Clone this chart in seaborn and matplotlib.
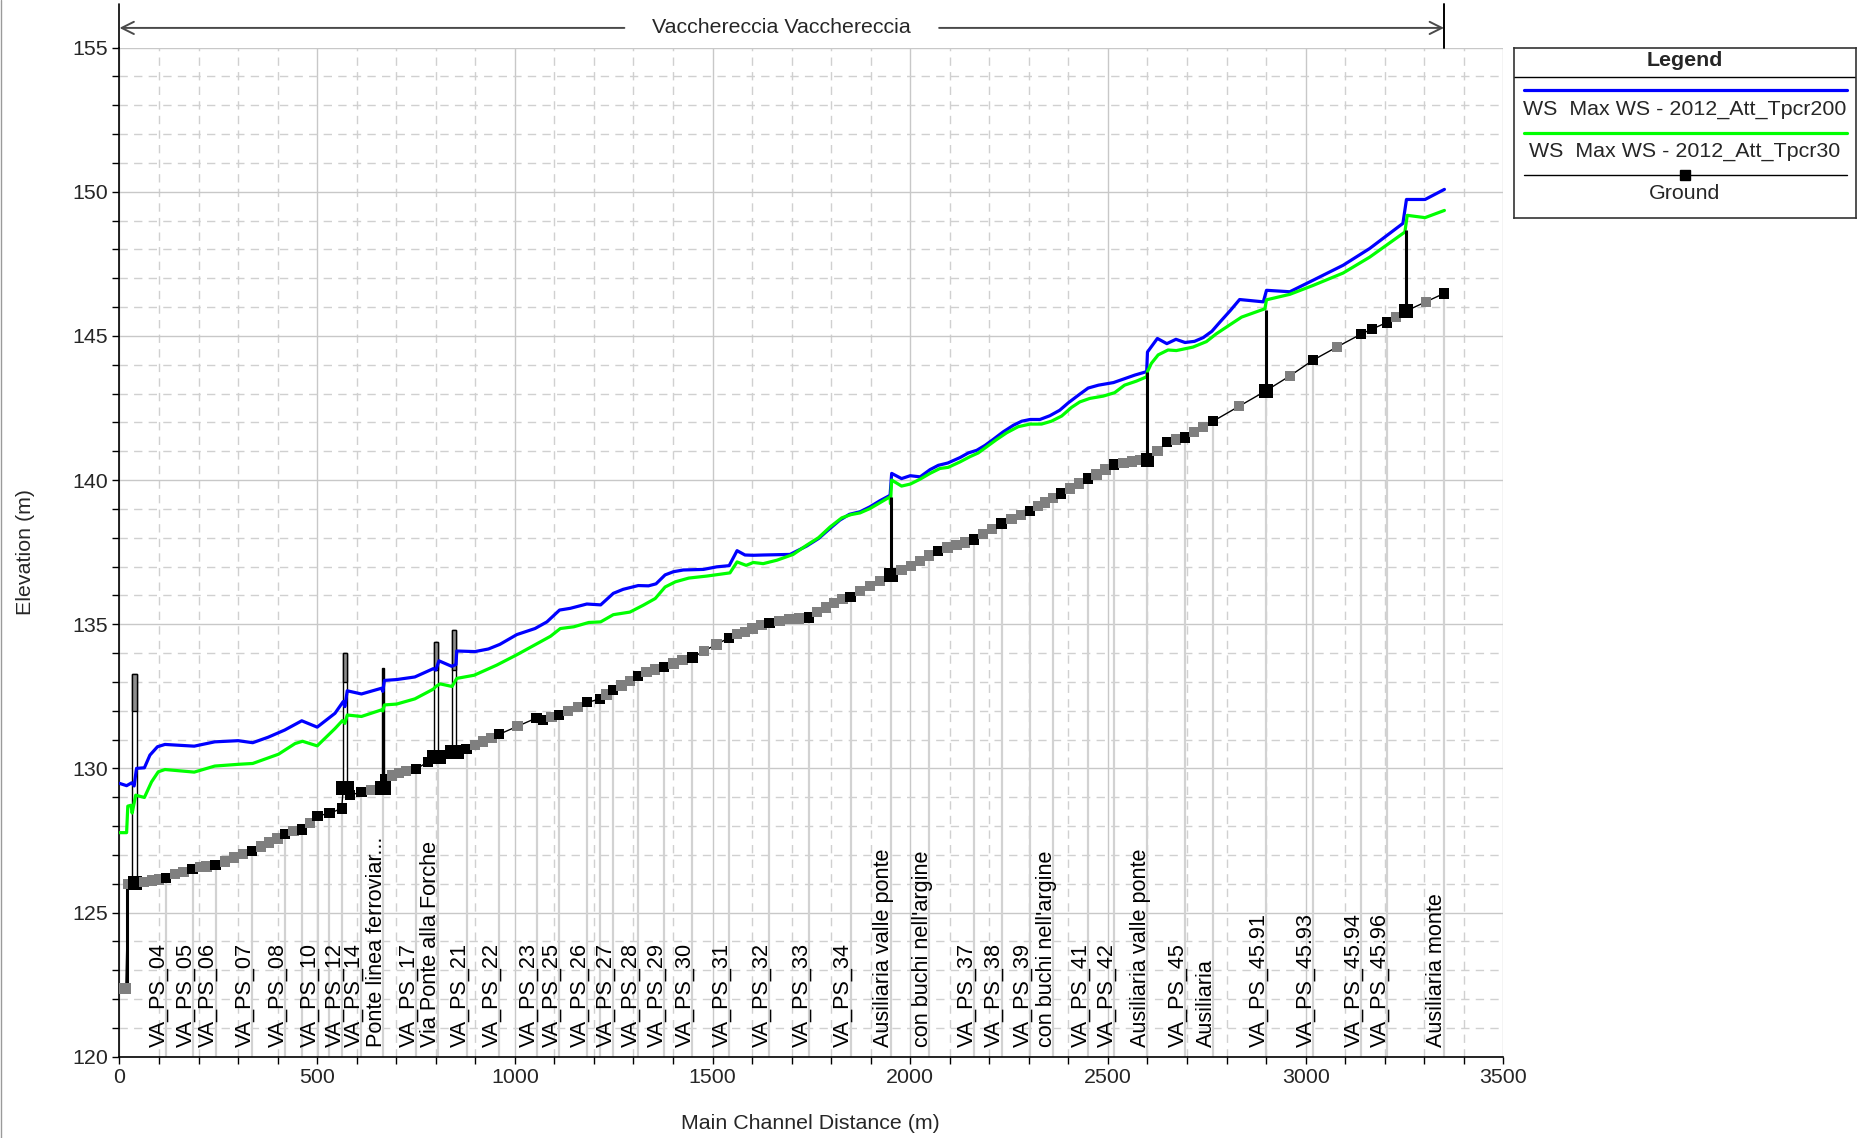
import numpy as np
import pandas as pd
import matplotlib
matplotlib.use("Agg")
import matplotlib.pyplot as plt
from matplotlib.ticker import MultipleLocator
from matplotlib.patches import Rectangle
from matplotlib.lines import Line2D
import seaborn as sns

# ---------------------------------------------------------------------------
# Longitudinal profile data (main channel distance in m, elevation in m)
# ---------------------------------------------------------------------------
reach_name = "Vacchereccia Vacchereccia"

# Water surface, Max WS - 2012_Att_Tpcr200
ws_tpcr200 = [
    (0, 129.48), (18, 129.40), (31, 129.50), (37, 129.39), (43, 130.00), (63, 130.02),
    (77, 130.46), (96, 130.75), (115, 130.83), (189, 130.77), (241, 130.92), (300, 130.96),
    (337, 130.89), (376, 131.08), (418, 131.33), (461, 131.65), (500, 131.43), (545, 131.91),
    (566, 132.32), (570, 132.14), (576, 132.69), (612, 132.58), (663, 132.78), (666, 132.67),
    (670, 133.05), (701, 133.08), (747, 133.17), (794, 133.46), (800, 133.41), (808, 133.73),
    (840, 133.54), (851, 133.60), (853, 134.07), (899, 134.05), (933, 134.14), (962, 134.30),
    (1005, 134.64), (1051, 134.85), (1081, 135.08), (1113, 135.49), (1140, 135.55),
    (1182, 135.70), (1217, 135.67), (1249, 136.07), (1274, 136.21), (1312, 136.34),
    (1338, 136.33), (1357, 136.40), (1380, 136.71), (1401, 136.82), (1426, 136.88),
    (1477, 136.90), (1511, 136.99), (1542, 137.03), (1562, 137.55), (1582, 137.40),
    (1603, 137.39), (1628, 137.40), (1696, 137.42), (1738, 137.71), (1768, 137.97),
    (1797, 138.32), (1822, 138.61), (1846, 138.81), (1873, 138.90), (1898, 139.07),
    (1923, 139.28), (1949, 139.47), (1953, 140.23), (1978, 140.05), (2000, 140.15),
    (2025, 140.11), (2050, 140.36), (2071, 140.51), (2095, 140.59), (2126, 140.78),
    (2147, 140.94), (2168, 141.03), (2189, 141.20), (2210, 141.41), (2235, 141.67),
    (2261, 141.90), (2282, 142.04), (2303, 142.10), (2328, 142.10), (2353, 142.23),
    (2378, 142.42), (2400, 142.68), (2425, 142.94), (2450, 143.19), (2476, 143.29),
    (2514, 143.38), (2539, 143.50), (2568, 143.64), (2598, 143.76), (2600, 144.44),
    (2625, 144.91), (2649, 144.73), (2672, 144.88), (2695, 144.77), (2719, 144.81),
    (2741, 144.94), (2763, 145.16), (2784, 145.49), (2809, 145.87), (2833, 146.26),
    (2893, 146.18), (2901, 146.58), (2960, 146.53), (3019, 146.93), (3095, 147.45),
    (3162, 148.03), (3246, 148.90), (3251, 149.36), (3255, 149.73), (3302, 149.73),
    (3351, 150.08),
]

# Water surface, Max WS - 2012_Att_Tpcr30
ws_tpcr30 = [
    (0, 127.77), (18, 127.77), (21, 128.69), (29, 128.72), (32, 128.45), (41, 129.07),
    (63, 128.99), (81, 129.53), (98, 129.88), (115, 129.96), (189, 129.87), (241, 130.08),
    (300, 130.14), (337, 130.17), (402, 130.49), (444, 130.86), (463, 130.94), (500, 130.78),
    (545, 131.38), (564, 131.66), (570, 131.56), (576, 131.85), (612, 131.80), (663, 132.03),
    (666, 131.99), (670, 132.20), (701, 132.23), (747, 132.41), (794, 132.75), (800, 132.84),
    (811, 132.93), (841, 132.84), (853, 133.12), (897, 133.23), (954, 133.58), (1005, 133.94),
    (1090, 134.58), (1115, 134.85), (1149, 134.91), (1187, 135.06), (1217, 135.08),
    (1249, 135.33), (1291, 135.42), (1325, 135.66), (1355, 135.89), (1380, 136.29),
    (1406, 136.47), (1440, 136.60), (1486, 136.67), (1544, 136.78), (1562, 137.16),
    (1585, 137.04), (1603, 137.14), (1628, 137.10), (1663, 137.22), (1704, 137.42),
    (1738, 137.74), (1768, 138.00), (1797, 138.37), (1827, 138.69), (1850, 138.80),
    (1873, 138.86), (1898, 139.01), (1923, 139.21), (1949, 139.42), (1950, 139.18),
    (1953, 140.00), (1978, 139.79), (2000, 139.86), (2025, 140.03), (2050, 140.23),
    (2075, 140.40), (2096, 140.44), (2126, 140.63), (2151, 140.81), (2172, 140.94),
    (2193, 141.15), (2218, 141.40), (2244, 141.64), (2273, 141.85), (2303, 141.94),
    (2332, 141.94), (2357, 142.04), (2383, 142.22), (2408, 142.52), (2429, 142.71),
    (2454, 142.83), (2488, 142.91), (2517, 143.03), (2542, 143.29), (2572, 143.43),
    (2598, 143.58), (2600, 143.76), (2610, 144.05), (2627, 144.34), (2652, 144.51),
    (2673, 144.49), (2715, 144.61), (2749, 144.80), (2774, 145.07), (2808, 145.38),
    (2838, 145.65), (2897, 145.94), (2901, 146.25), (2960, 146.44), (3019, 146.75),
    (3095, 147.18), (3162, 147.73), (3251, 148.60), (3257, 149.18), (3302, 149.10),
    (3351, 149.35),
]

# Channel bed: (distance, elevation, kind) with kind "xs" = surveyed section,
# "int" = interpolated section, "face" = bridge / structure face
ground = [
    (0, 122.37, "int"), (16, 122.37, "int"), (22, 125.98, "int"), (30, 126.00, "int"),
    (40, 126.02, "face"), (62, 126.07, "int"), (83, 126.11, "int"), (100, 126.15, "int"),
    (117, 126.19, "xs"), (140, 126.33, "int"), (162, 126.41, "int"), (185, 126.50, "xs"),
    (203, 126.57, "int"), (220, 126.60, "int"), (243, 126.65, "xs"), (266, 126.77, "int"),
    (290, 126.91, "int"), (313, 127.04, "int"), (336, 127.14, "xs"), (358, 127.29, "int"),
    (379, 127.43, "int"), (400, 127.57, "int"), (419, 127.72, "xs"), (440, 127.82, "int"),
    (461, 127.88, "xs"), (482, 128.11, "int"), (501, 128.35, "xs"), (531, 128.44, "xs"),
    (562, 128.61, "xs"), (566, 129.33, "face"), (576, 129.33, "face"), (583, 129.07, "xs"),
    (612, 129.18, "xs"), (637, 129.26, "int"), (663, 129.33, "face"), (670, 129.33, "face"),
    (673, 129.62, "xs"), (690, 129.75, "int"), (707, 129.83, "int"), (725, 129.90, "int"),
    (750, 129.98, "xs"), (781, 130.23, "xs"), (796, 130.38, "face"), (808, 130.38, "face"),
    (840, 130.58, "face"), (853, 130.58, "face"), (878, 130.66, "xs"), (899, 130.81, "int"),
    (920, 130.93, "int"), (941, 131.05, "int"), (960, 131.18, "xs"), (1007, 131.46, "int"),
    (1055, 131.75, "xs"), (1072, 131.67, "xs"), (1093, 131.78, "int"), (1112, 131.84, "xs"),
    (1135, 131.99, "int"), (1159, 132.13, "int"), (1183, 132.29, "xs"), (1215, 132.40, "xs"),
    (1232, 132.56, "int"), (1249, 132.72, "xs"), (1270, 132.87, "int"), (1291, 133.04, "int"),
    (1312, 133.20, "xs"), (1333, 133.33, "int"), (1354, 133.43, "int"), (1378, 133.52, "xs"),
    (1401, 133.64, "int"), (1424, 133.76, "int"), (1449, 133.84, "xs"), (1478, 134.07, "int"),
    (1510, 134.30, "int"), (1542, 134.53, "xs"), (1562, 134.65, "int"), (1582, 134.73, "int"),
    (1601, 134.85, "int"), (1624, 134.96, "int"), (1644, 135.05, "xs"), (1669, 135.11, "int"),
    (1694, 135.17, "int"), (1719, 135.20, "int"), (1744, 135.23, "xs"), (1765, 135.43, "int"),
    (1787, 135.58, "int"), (1808, 135.74, "int"), (1829, 135.87, "int"), (1849, 135.95, "xs"),
    (1873, 136.14, "int"), (1898, 136.33, "int"), (1923, 136.51, "int"), (1951, 136.70, "face"),
    (1978, 136.88, "int"), (2002, 137.03, "int"), (2025, 137.20, "int"), (2048, 137.38, "int"),
    (2071, 137.53, "xs"), (2094, 137.66, "int"), (2117, 137.74, "int"), (2139, 137.83, "int"),
    (2161, 137.94, "xs"), (2184, 138.12, "int"), (2207, 138.29, "int"), (2231, 138.49, "xs"),
    (2256, 138.64, "int"), (2280, 138.78, "int"), (2302, 138.93, "xs"), (2323, 139.09, "int"),
    (2340, 139.22, "int"), (2361, 139.38, "int"), (2381, 139.53, "xs"), (2404, 139.71, "int"),
    (2427, 139.88, "int"), (2449, 140.05, "xs"), (2471, 140.19, "int"), (2494, 140.37, "int"),
    (2515, 140.54, "xs"), (2539, 140.60, "int"), (2560, 140.64, "int"), (2581, 140.69, "int"),
    (2600, 140.71, "face"), (2625, 141.00, "int"), (2649, 141.31, "xs"), (2672, 141.41, "int"),
    (2695, 141.48, "xs"), (2718, 141.67, "int"), (2741, 141.85, "int"), (2766, 142.04, "xs"),
    (2832, 142.56, "int"), (2899, 143.09, "face"), (2960, 143.61, "int"), (3019, 144.16, "xs"),
    (3080, 144.62, "int"), (3140, 145.06, "xs"), (3167, 145.23, "xs"), (3205, 145.46, "xs"),
    (3228, 145.66, "int"), (3254, 145.86, "face"), (3304, 146.18, "int"), (3350, 146.47, "xs"),
]

# Labelled cross sections (name, distance)
section_labels = [
    ("VA_PS_04", 117), ("VA_PS_05", 185), ("VA_PS_06", 243), ("VA_PS_07", 336),
    ("VA_PS_08", 419), ("VA_PS_10", 501), ("VA_PS_12", 562), ("VA_PS_14", 612),
    ("Ponte linea ferroviar...", 667), ("VA_PS_17", 750), ("Via Ponte alla Forche", 805),
    ("VA_PS_21", 878), ("VA_PS_22", 960), ("VA_PS_23", 1055), ("VA_PS_25", 1112),
    ("VA_PS_26", 1183), ("VA_PS_27", 1249), ("VA_PS_28", 1312), ("VA_PS_29", 1378),
    ("VA_PS_30", 1449), ("VA_PS_31", 1542), ("VA_PS_32", 1644), ("VA_PS_33", 1744),
    ("VA_PS_34", 1849), ("Ausiliaria valle ponte", 1951), ("con buchi nell'argine", 2048),
    ("VA_PS_37", 2161), ("VA_PS_38", 2231), ("VA_PS_39", 2302),
    ("con buchi nell'argine", 2362), ("VA_PS_41", 2449), ("VA_PS_42", 2515),
    ("Ausiliaria valle ponte", 2600), ("VA_PS_45", 2695), ("Ausiliaria", 2766),
    ("VA_PS_45.91", 2899), ("VA_PS_45.93", 3019), ("VA_PS_45.94", 3140),
    ("VA_PS_45.96", 3205), ("Ausiliaria monte", 3350),
]
# Sections drawn without a label (text would overlap)
unlabelled_sections = [461, 531, 1215]

# Bridges: (x start, x end, deck low chord, deck top)
bridges = [(32, 44, 131.98, 133.29), (566, 576, 133.00, 134.01),
           (796, 806, 133.41, 134.39), (840, 852, 133.41, 134.80)]
# Railway bridge pier drawn solid: (x start, x end, top)
solid_pier = (663, 670, 133.49)
# Inline structures / drops: (distance, bottom, top)
structures = [(18, 122.37, 125.98), (1951, 136.70, 139.42), (2600, 140.71, 143.76),
              (2899, 143.09, 145.89), (3254, 145.86, 148.67)]

# ---------------------------------------------------------------------------
df200 = pd.DataFrame(ws_tpcr200, columns=["station", "elev"])
df30 = pd.DataFrame(ws_tpcr30, columns=["station", "elev"])
gdf = pd.DataFrame(ground, columns=["station", "elev", "kind"])

sns.set_theme(style="white")
plt.rcParams["font.family"] = ["Liberation Sans", "DejaVu Sans"]
FS = 15.4

fig = plt.figure(figsize=(18.65, 11.38), dpi=100)
ax = fig.add_axes([0.06407, 0.07144, 0.7420, 0.8868])
ax.set_xlim(0, 3500)
ax.set_ylim(120, 155)

ax.xaxis.set_major_locator(MultipleLocator(500))
ax.xaxis.set_minor_locator(MultipleLocator(100))
ax.yaxis.set_major_locator(MultipleLocator(5))
ax.yaxis.set_minor_locator(MultipleLocator(1))
ax.set_axisbelow(True)
ax.grid(which="major", color="#c8c8c8", lw=1.0, ls="-")
ax.grid(which="minor", color="#d0d0d0", lw=1.0, ls=(0, (6, 4.5)))

for side in ("top", "right"):
    ax.spines[side].set_visible(False)
for side in ("left", "bottom"):
    ax.spines[side].set_color("black")
    ax.spines[side].set_linewidth(1.2)
ax.tick_params(which="both", direction="out", length=5, width=1, color="black",
               bottom=True, left=True, labelsize=FS, pad=3)

gx = gdf["station"].to_numpy(dtype=float)
gy = gdf["elev"].to_numpy(dtype=float)

# vertical section lines from the axis up to the bed
line_x = [x for _, x in section_labels] + unlabelled_sections
ax.vlines(line_x, 120, np.interp(line_x, gx, gy), color="#d2d2d2", lw=1.6, zorder=1.5)

# bridges
for x0, x1, low, top in bridges:
    bed = np.interp((x0 + x1) / 2, gx, gy)
    ax.add_patch(Rectangle((x0, bed), x1 - x0, top - bed, fc="white", ec="black",
                           lw=1.0, zorder=2.5))
    ax.add_patch(Rectangle((x0, low), x1 - x0, top - low, fc="#8e8e8e", ec="black",
                           lw=1.0, zorder=2.6))
px0, px1, ptop = solid_pier
pbed = np.interp((px0 + px1) / 2, gx, gy)
ax.add_patch(Rectangle((px0, pbed), px1 - px0, ptop - pbed, fc="black", ec="black",
                       lw=1.0, zorder=2.6))

# water surfaces
sns.lineplot(data=df200, x="station", y="elev", ax=ax, color="#0000ff", lw=2.3,
             sort=False, estimator=None, zorder=3)
sns.lineplot(data=df30, x="station", y="elev", ax=ax, color="#00ff00", lw=2.3,
             sort=False, estimator=None, zorder=3)

# structures
for sx, sb, st in structures:
    ax.vlines(sx, sb, st, color="black", lw=2.2, zorder=4)

# bed profile
sns.lineplot(data=gdf, x="station", y="elev", ax=ax, color="black", lw=1.0,
             sort=False, estimator=None, zorder=4)
sns.scatterplot(data=gdf, x="station", y="elev", hue="kind", size="kind",
                palette={"int": "#7f7f7f", "xs": "black", "face": "black"},
                sizes={"int": 55, "xs": 55, "face": 100},
                marker="s", linewidth=0, ax=ax, legend=False, zorder=5)

# section names, baseline sitting against the section line
for name, x in section_labels:
    ax.annotate(name, xy=(x, 120.35), xytext=(2.5, 0), textcoords="offset points",
                rotation=90, ha="right", va="bottom", fontsize=15.6,
                color="black", zorder=6)

ax.set_xlabel("Main Channel Distance (m)", fontsize=FS)
ax.set_ylabel("Elevation (m)", fontsize=FS)
ax.xaxis.set_label_coords(0.499, -0.057)
ax.yaxis.set_label_coords(-0.061, 0.5)

# reach extent arrow above the plot
reach_end = gx[-1]
y_arrow = 155.68
y_cap = 156.5
t = ax.text(reach_end / 2, y_arrow, reach_name, ha="center", va="center",
            fontsize=FS, clip_on=False)
fig.canvas.draw()
bb = t.get_window_extent()
inv = ax.transData.inverted()
x_left = inv.transform((bb.x0 - 28, 0))[0]
x_right = inv.transform((bb.x1 + 28, 0))[0]
arrow_kw = dict(arrowstyle="->", color="#4a4a4a", lw=1.4, mutation_scale=22,
                shrinkA=0, shrinkB=0)
ax.annotate("", xy=(0, y_arrow), xytext=(x_left, y_arrow), arrowprops=arrow_kw,
            annotation_clip=False)
ax.annotate("", xy=(reach_end, y_arrow), xytext=(x_right, y_arrow), arrowprops=arrow_kw,
            annotation_clip=False)
ax.plot([0, 0], [155, y_cap], color="black", lw=1.2, clip_on=False)
ax.plot([reach_end, reach_end], [155, y_cap], color="black", lw=1.4, clip_on=False)

# legend box
lax = fig.add_axes([0.8118, 0.8082, 0.1834, 0.1499])
lax.set_xlim(0, 1)
lax.set_ylim(0, 1)
lax.set_xticks([])
lax.set_yticks([])
for sp in lax.spines.values():
    sp.set_visible(True)
    sp.set_color("#333333")
    sp.set_linewidth(1.2)
lax.text(0.5, 0.924, "Legend", ha="center", va="center", fontsize=FS, weight="bold")
lax.axhline(0.8265, color="black", lw=1.0)
lax.plot([0.029, 0.973], [0.752, 0.752], color="#0000ff", lw=2.3)
lax.text(0.5, 0.639, "WS  Max WS - 2012_Att_Tpcr200", ha="center", va="center", fontsize=FS)
lax.plot([0.029, 0.973], [0.502, 0.502], color="#00ff00", lw=2.3)
lax.text(0.5, 0.390, "WS  Max WS - 2012_Att_Tpcr30", ha="center", va="center", fontsize=FS)
lax.plot([0.029, 0.973], [0.254, 0.254], color="black", lw=1.0)
lax.plot([0.5], [0.254], marker="s", color="black", ms=6.5, lw=0)
lax.text(0.5, 0.147, "Ground", ha="center", va="center", fontsize=FS)

fig.add_artist(Line2D([0.0008, 0.0008], [0, 1], color="#9a9a9a", lw=1.0))

fig.savefig("out.png", dpi=100)
